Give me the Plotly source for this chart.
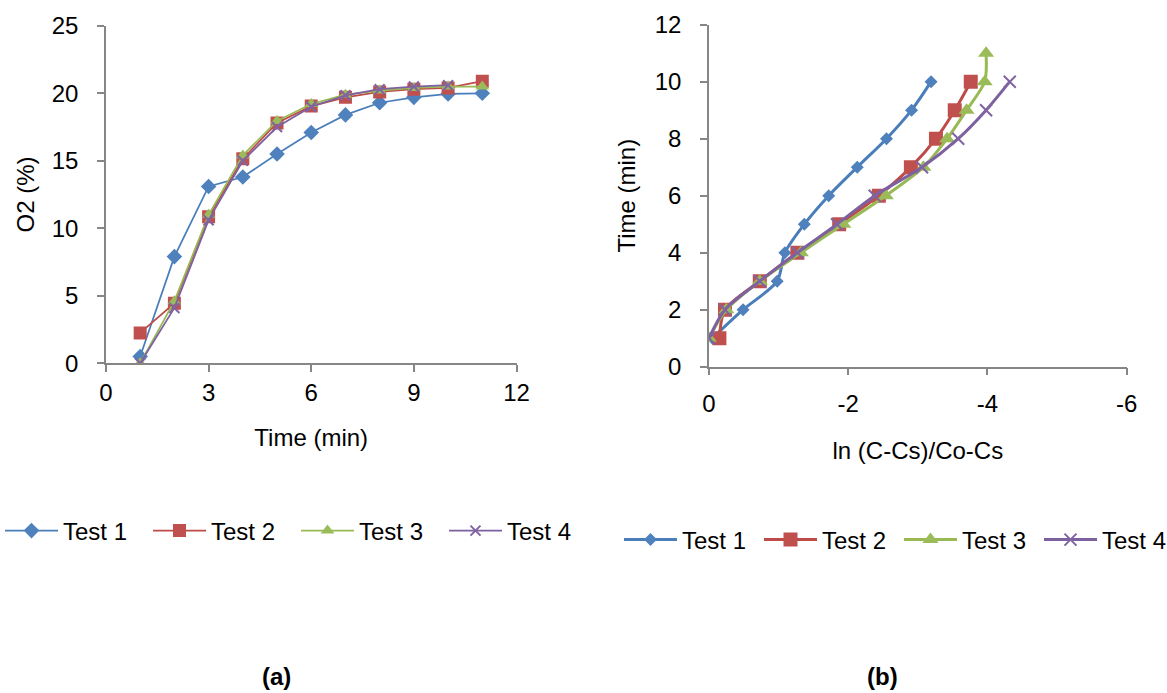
import plotly.graph_objects as go

# ---- (a) O2 concentration vs time ----
time_a = [1, 2, 3, 4, 5, 6, 7, 8, 9, 10, 11]
o2_test1 = [0.5, 7.9, 13.1, 13.8, 15.5, 17.1, 18.4, 19.3, 19.7, 19.95, 20.0]
o2_test2 = [2.25, 4.45, 10.85, 15.15, 17.8, 19.05, 19.7, 20.1, 20.3, 20.4, 20.9]
o2_test3 = [0.0, 4.6, 11.0, 15.4, 17.95, 19.2, 19.9, 20.2, 20.4, 20.5, 20.5]
o2_test4 = [0.0, 4.1, 10.6, 15.0, 17.5, 19.0, 19.85, 20.3, 20.5, 20.6]

# ---- (b) time vs ln((C-Cs)/(Co-Cs)) ----
ln_test1 = [-0.05, -0.49, -0.98, -1.09, -1.37, -1.72, -2.13, -2.55, -2.91, -3.19]
ln_test2 = [-0.15, -0.23, -0.73, -1.27, -1.87, -2.44, -2.90, -3.26, -3.53, -3.76]
ln_test3 = [0.0, -0.25, -0.73, -1.32, -1.93, -2.54, -3.08, -3.42, -3.70, -3.96, -3.98]
ln_test4 = [0.0, -0.23, -0.73, -1.27, -1.84, -2.38, -3.06, -3.58, -3.98, -4.32]
time_b = [1, 2, 3, 4, 5, 6, 7, 8, 9, 10, 11]

series_names = ["Test 1", "Test 2", "Test 3", "Test 4"]
colors = ["#4A7EBB", "#BE4B48", "#98B954", "#7D60A0"]
marker_colors = ["#4F81BD", "#C0504D", "#9BBB59", "#8064A2"]
symbols = ["diamond", "square", "triangle-up", "x-thin"]

x_ticks_a = [0, 3, 6, 9, 12]
y_ticks_a = [0, 5, 10, 15, 20, 25]
x_ticks_b = [0, -2, -4, -6]
x_ticktext_b = ["0", "-2", "-4", "-6"]
y_ticks_b = [0, 2, 4, 6, 8, 10, 12]

FONT = "Liberation Sans Narrow, Arial Narrow, Liberation Sans, Arial, sans-serif"
FS = 24
AXIS_GREY = "#868686"

fig = go.Figure()

series_a = [o2_test1, o2_test2, o2_test3, o2_test4]
for i, ys in enumerate(series_a):
    sym = symbols[i]
    marker = dict(symbol=sym, color=marker_colors[i],
                  size=[12, 13, 12, 10][i])
    if sym == "x-thin":
        marker["line"] = dict(color=marker_colors[i], width=2)
    fig.add_trace(go.Scatter(
        x=time_a[:len(ys)], y=ys, mode="lines+markers",
        name=series_names[i], legend="legend",
        line=dict(color=colors[i], width=1.75),
        marker=marker, xaxis="x", yaxis="y",
    ))

series_b = [ln_test1, ln_test2, ln_test3, ln_test4]
for i, xs in enumerate(series_b):
    sym = symbols[i]
    marker = dict(symbol=sym, color=marker_colors[i],
                  size=[10, 14, 14, 12][i])
    if sym == "x-thin":
        marker["line"] = dict(color=marker_colors[i], width=2)
    fig.add_trace(go.Scatter(
        x=xs, y=time_b[:len(xs)], mode="lines+markers",
        name=series_names[i], legend="legend2",
        line=dict(color=colors[i], width=3, shape="spline", smoothing=0.8),
        marker=marker, xaxis="x2", yaxis="y2",
    ))

axis_common = dict(
    showline=True, linecolor=AXIS_GREY, linewidth=1.5,
    ticks="outside", ticklen=7, tickwidth=1.5, tickcolor=AXIS_GREY,
    showgrid=False, zeroline=False, automargin=False,
    tickfont=dict(family=FONT, size=FS, color="#000000"),
    title_font=dict(family=FONT, size=FS, color="#000000"),
)

fig.update_layout(
    width=1167, height=693,
    margin=dict(l=0, r=0, t=0, b=0, autoexpand=False),
    paper_bgcolor="white", plot_bgcolor="white",
    font=dict(family=FONT, size=FS, color="#000000"),
    showlegend=True,
    xaxis=dict(axis_common, domain=[0.0908, 0.4426], range=[0, 12],
               tickvals=x_ticks_a, anchor="y",
               title=dict(text="Time (min)", standoff=24)),
    yaxis=dict(axis_common, domain=[0.4758, 0.9628], range=[0, 25],
               tickvals=y_ticks_a, anchor="x", ticklabelstandoff=14,
               title=dict(text="O2 (%)", standoff=10)),
    xaxis2=dict(axis_common, domain=[0.6075, 0.9655], range=[0, -6],
                tickvals=x_ticks_b, ticktext=x_ticktext_b, anchor="y2",
                ticklabelstandoff=8,
                title=dict(text="ln (C-Cs)/Co-Cs", standoff=26)),
    yaxis2=dict(axis_common, domain=[0.4709, 0.9644], range=[0, 12],
                tickvals=y_ticks_b, anchor="x2", ticklabelstandoff=14,
                title=dict(text="Time (min)", standoff=12)),
    legend=dict(orientation="h", x=0.0, xanchor="left", y=1 - 531 / 693,
                yanchor="middle", itemwidth=53, entrywidth=80,
                font=dict(family=FONT, size=FS), bgcolor="rgba(0,0,0,0)",
                traceorder="normal"),
    legend2=dict(orientation="h", x=619 / 1167, xanchor="left", y=1 - 540 / 693,
                 yanchor="middle", itemwidth=53, entrywidth=72,
                 font=dict(family=FONT, size=FS), bgcolor="rgba(0,0,0,0)",
                 traceorder="normal"),
    annotations=[
        dict(text="<b>(a)</b>", x=276 / 1167, y=1 - 676 / 693, xref="paper", yref="paper",
             xanchor="center", yanchor="middle", showarrow=False,
             font=dict(family=FONT, size=FS, color="#000000")),
        dict(text="<b>(b)</b>", x=882 / 1167, y=1 - 676 / 693, xref="paper", yref="paper",
             xanchor="center", yanchor="middle", showarrow=False,
             font=dict(family=FONT, size=FS, color="#000000")),
    ],
)

fig.write_html("out.html")
